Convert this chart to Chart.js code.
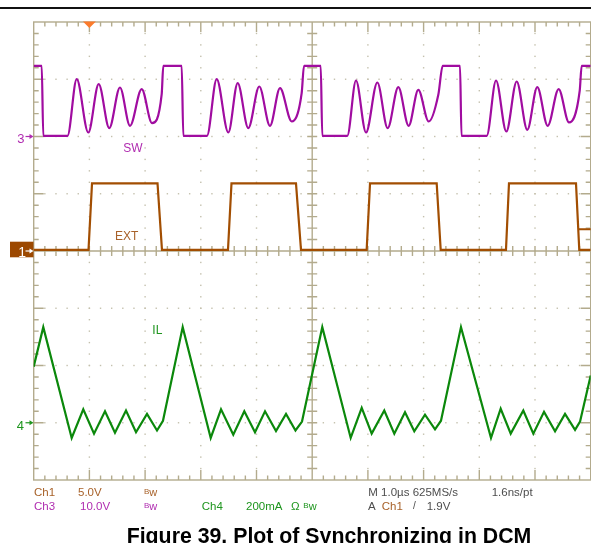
<!DOCTYPE html>
<html>
<head>
<meta charset="utf-8">
<script src="https://cdn.jsdelivr.net/npm/chart.js@4.4.0/dist/chart.umd.min.js"></script>
<style>
  html, body { margin: 0; padding: 0; background: #fff; }
  #wrap { position: relative; width: 591px; height: 543px; overflow: hidden; font-family: "Liberation Sans", Arial, sans-serif; }
  #scope { position: absolute; left: 0; top: 0; }
  #topRule { position: absolute; left: 0; top: 7px; width: 591px; height: 2px; background: #111; }
  .lbl { position: absolute; white-space: nowrap; line-height: 1; font-size: 11.5px; z-index: 2; }
  .brown { color: #a8622a; }
  .purple { color: #b02cb0; }
  .green { color: #1e951e; }
  .gray { color: #4d4d4d; }
  .bw .b { font-size: 8px; position: relative; top: -2.5px; }
  .bw .w { font-size: 11px; }
  #title { position: absolute; left: 126.7px; top: 525.6px; font-size: 21.3px; font-weight: bold; line-height: 1; white-space: nowrap; color: #000; }
</style>
</head>
<body>
<div id="wrap">
  <canvas id="scope" width="591" height="543"></canvas>
  <div id="topRule"></div>

  <!-- channel markers and trace names -->
  <div class="lbl purple" style="left:17.3px; top:132.3px; font-size:13px;">3</div>
  <div class="lbl" style="left:18.3px; top:244.9px; font-size:14px; color:#fff;">1</div>
  <div class="lbl green" style="left:16.7px; top:419px; font-size:13px;">4</div>
  <div class="lbl purple" style="left:123.3px; top:141.5px; font-size:12px;">SW</div>
  <div class="lbl brown" style="left:115px; top:229.8px; font-size:12px;">EXT</div>
  <div class="lbl green" style="left:152.3px; top:324.1px; font-size:12px;">IL</div>

  <!-- scope readout -->
  <div class="lbl brown" style="left:34px; top:487.3px;">Ch1</div>
  <div class="lbl brown" style="left:78px; top:487.3px;">5.0V</div>
  <div class="lbl brown bw" style="left:144px; top:487.3px;"><span class="b">B</span><span class="w">w</span></div>
  <div class="lbl gray" style="left:368.3px; top:487.3px;">M 1.0µs 625MS/s</div>
  <div class="lbl gray" style="left:491.7px; top:487.3px;">1.6ns/pt</div>

  <div class="lbl purple" style="left:34px; top:501px;">Ch3</div>
  <div class="lbl purple" style="left:80px; top:501px;">10.0V</div>
  <div class="lbl purple bw" style="left:144px; top:501px;"><span class="b">B</span><span class="w">w</span></div>
  <div class="lbl green" style="left:201.7px; top:501px;">Ch4</div>
  <div class="lbl green" style="left:246px; top:501px;">200mA</div>
  <div class="lbl green" style="left:291px; top:501px;">Ω</div>
  <div class="lbl green bw" style="left:303.3px; top:501px;"><span class="b">B</span><span class="w">w</span></div>
  <div class="lbl gray" style="left:368px; top:501px;">A</div>
  <div class="lbl brown" style="left:381.7px; top:501px;">Ch1</div>
  <div class="lbl gray" style="left:413px; top:501px; font-size:10px;">/</div>
  <div class="lbl gray" style="left:426.7px; top:501px;">1.9V</div>

  <div id="title">Figure 39. Plot of Synchronizing in DCM</div>
</div>

<script>
// time in µs (1 µs/div), values in channel units
const swTime = [0, 0.144, 0.172, 0.607, 0.772, 0.980, 1.167, 1.357, 1.549, 1.729, 1.939, 2.124, 2.298,
    2.327, 2.657, 2.686, 3.111, 3.285, 3.494, 3.662, 3.853, 4.050, 4.242, 4.422, 4.632, 4.811,
    4.853, 5.153, 5.181, 5.630, 5.786, 5.966, 6.169, 6.355, 6.546, 6.732, 6.905, 7.092, 7.264,
    7.343, 7.654, 7.680, 8.133, 8.300, 8.485, 8.671, 8.862, 9.041, 9.228, 9.425, 9.610, 9.803,
    9.838, 10.0];
const swVolts = [12.35, 12.35, 0.12, 0.12, 10.03, 0.70, 9.15, 1.47, 8.56, 1.87, 8.28, 2.34, 7.41,
    12.35, 12.35, 0.12, 0.12, 10.03, 0.70, 9.33, 1.47, 8.73, 1.87, 8.45, 2.62, 7.58,
    12.35, 12.35, 0.12, 0.12, 9.78, 0.70, 9.43, 1.47, 8.63, 1.87, 8.16, 2.62, 7.28,
    12.35, 12.35, 0.12, 0.12, 9.78, 0.87, 9.61, 1.17, 8.63, 1.87, 8.28, 2.45, 8.03,
    12.35, 12.35];

const extTime = [0, 0.984, 1.047, 2.223, 2.303, 3.488, 3.551, 4.709, 4.799, 5.978, 6.038,
    7.235, 7.307, 8.479, 8.533, 9.736, 9.795, 10.0];
const extVolts = [0.1, 0.1, 5.9, 5.9, 0.1, 0.1, 5.9, 5.9, 0.1, 0.1, 5.9, 5.9, 0.1, 0.1, 5.9, 5.9, 0.1, 0.1];

const ilTime = [0, 0.172, 0.682, 0.890, 1.083, 1.280, 1.459, 1.657, 1.837, 2.034, 2.214,
    2.321, 2.675, 3.178, 3.363, 3.583, 3.781, 3.973, 4.153, 4.350, 4.530, 4.700,
    4.817, 5.181, 5.691, 5.889, 6.068, 6.294, 6.474, 6.666, 6.833, 7.025, 7.205,
    7.312, 7.671, 8.210, 8.384, 8.564, 8.790, 8.970, 9.162, 9.360, 9.539, 9.719,
    9.809, 10.0];
const ilMilliamps = [196, 334, -53, 47, -38, 40, -35, 43, -33, 31, -27,
    7, 334, -53, 47, -42, 40, -33, 40, -29, 31, -27,
    4, 334, -53, 52, -38, 43, -38, 37, -30, 28, -23,
    7, 334, -53, 49, -38, 43, -38, 38, -30, 31, -25,
    4, 165];

// channel settings: units per division and ground marker position (divisions from centre)
const ch1 = { perDiv: 5, offset: 0, color: '#a24e02', trigLevel: 1.9 };
const ch3 = { perDiv: 10, offset: 2, color: '#a00ca0' };
const ch4 = { perDiv: 200, offset: -3, color: '#0b880b' };
const triggerTime = 1.0;

const gridColor = '#b3ab8d';
const dotColor = '#c4c0ad';

function toPoints(times, values, ch) {
    return times.map((t, i) => ({ x: t, y: values[i] / ch.perDiv + ch.offset }));
}

function drawArrow(ctx, yPix, color) {
    ctx.strokeStyle = color;
    ctx.fillStyle = color;
    ctx.lineWidth = 1.2;
    ctx.beginPath();
    ctx.moveTo(25.5, yPix);
    ctx.lineTo(31, yPix);
    ctx.stroke();
    ctx.beginPath();
    ctx.moveTo(29.5, yPix - 2.5);
    ctx.lineTo(33.5, yPix);
    ctx.lineTo(29.5, yPix + 2.5);
    ctx.closePath();
    ctx.fill();
}

// oscilloscope graticule: dotted divisions, centre cross and border ticks
const graticule = {
    id: 'graticule',
    beforeDatasetsDraw(chart) {
        const { ctx, chartArea: a, scales: { x, y } } = chart;
        ctx.save();
        ctx.fillStyle = dotColor;
        for (let i = 1; i < 10; i++) {
            if (i === 5) continue;
            const px = x.getPixelForValue(i);
            for (let m = -19; m <= 19; m++) {
                ctx.fillRect(px - 0.7, y.getPixelForValue(m / 5) - 0.7, 1.4, 1.4);
            }
        }
        for (let k = -3; k <= 3; k++) {
            if (k === 0) continue;
            const py = y.getPixelForValue(k);
            for (let m = 1; m < 50; m++) {
                ctx.fillRect(x.getPixelForValue(m / 5) - 0.7, py - 0.7, 1.4, 1.4);
            }
        }

        ctx.strokeStyle = gridColor;
        ctx.lineWidth = 1.4;
        ctx.strokeRect(a.left, a.top, a.right - a.left, a.bottom - a.top);

        const cx = x.getPixelForValue(5);
        const cy = y.getPixelForValue(0);
        ctx.beginPath();
        ctx.moveTo(cx, a.top); ctx.lineTo(cx, a.bottom);
        ctx.moveTo(a.left, cy); ctx.lineTo(a.right, cy);

        for (let m = 1; m < 50; m++) {
            const px = x.getPixelForValue(m / 5);
            const len = m % 5 === 0 ? 10 : 4.5;
            ctx.moveTo(px, a.top); ctx.lineTo(px, a.top + len);
            ctx.moveTo(px, a.bottom); ctx.lineTo(px, a.bottom - len);
            ctx.moveTo(px, cy - 5); ctx.lineTo(px, cy + 5);
        }
        for (let m = -19; m <= 19; m++) {
            const py = y.getPixelForValue(m / 5);
            const len = m % 5 === 0 ? 10 : 5;
            ctx.moveTo(a.left, py); ctx.lineTo(a.left + len, py);
            ctx.moveTo(a.right, py); ctx.lineTo(a.right - len, py);
            ctx.moveTo(cx - 5, py); ctx.lineTo(cx + 5, py);
        }
        ctx.stroke();
        ctx.restore();
    },
    afterDraw(chart) {
        const { ctx, chartArea: a, scales: { x, y } } = chart;
        ctx.save();
        // trigger position
        const tx = x.getPixelForValue(triggerTime);
        ctx.fillStyle = '#fb7b2c';
        ctx.beginPath();
        ctx.moveTo(tx - 6.5, a.top - 0.5);
        ctx.lineTo(tx + 6.5, a.top - 0.5);
        ctx.lineTo(tx, a.top + 6);
        ctx.closePath();
        ctx.fill();

        // trigger level on the right edge
        const ty = y.getPixelForValue(ch1.trigLevel / ch1.perDiv + ch1.offset);
        ctx.strokeStyle = ch1.color;
        ctx.lineWidth = 2;
        ctx.beginPath();
        ctx.moveTo(a.right - 12, ty);
        ctx.lineTo(a.right, ty);
        ctx.stroke();

        // ground markers
        drawArrow(ctx, y.getPixelForValue(ch3.offset), '#b02cb0');
        drawArrow(ctx, y.getPixelForValue(ch4.offset), '#1e951e');
        const g1 = y.getPixelForValue(ch1.offset);
        ctx.fillStyle = '#9c4800';
        ctx.fillRect(10, g1 - 9.3, 23.5, 15.6);
        drawArrow(ctx, g1, '#ffffff');
        ctx.restore();
    }
};

new Chart(document.getElementById('scope'), {
    type: 'scatter',
    data: {
        datasets: [
            {
                label: 'SW',
                data: toPoints(swTime, swVolts, ch3),
                showLine: true,
                borderColor: ch3.color,
                borderWidth: 2.2,
                pointRadius: 0,
                cubicInterpolationMode: 'monotone'
            },
            {
                label: 'EXT',
                data: toPoints(extTime, extVolts, ch1),
                showLine: true,
                borderColor: ch1.color,
                borderWidth: 2.2,
                pointRadius: 0
            },
            {
                label: 'IL',
                data: toPoints(ilTime, ilMilliamps, ch4),
                showLine: true,
                borderColor: ch4.color,
                borderWidth: 2.2,
                pointRadius: 0
            }
        ]
    },
    options: {
        responsive: false,
        devicePixelRatio: 1,
        animation: false,
        layout: { padding: { left: 33.7, top: 22, right: 0.3, bottom: 63 } },
        plugins: {
            legend: { display: false },
            tooltip: { enabled: false }
        },
        scales: {
            x: { type: 'linear', min: 0, max: 10, display: false },
            y: { type: 'linear', min: -4, max: 4, display: false }
        }
    },
    plugins: [graticule]
});
</script>
</body>
</html>
